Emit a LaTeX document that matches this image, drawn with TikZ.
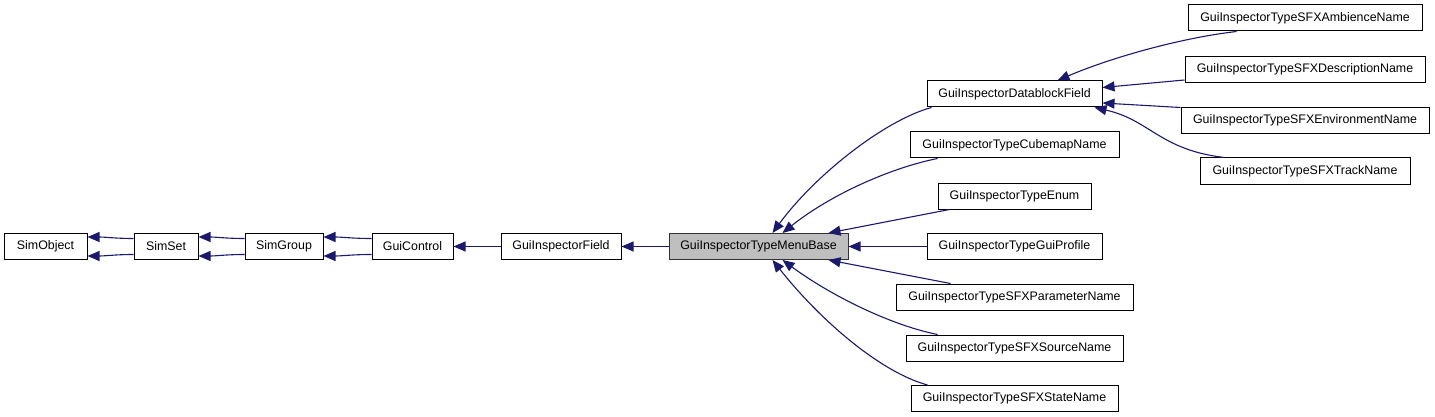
\documentclass[tikz,border=0pt]{standalone}
\usepackage{fontspec}
\setmainfont{Liberation Sans}
\usetikzlibrary{arrows.meta}
\definecolor{edgeblue}{HTML}{191970}
\definecolor{focusgray}{HTML}{BFBFBF}
\begin{document}
\begin{tikzpicture}[x=1pt,y=-1pt,
  box/.style={draw=black, line width=1pt, fill=white, minimum height=26pt, inner sep=0pt, font=\fontsize{12.4}{14}\selectfont},
  focus/.style={box, fill=focusgray, draw=black!80},
  edge/.style={draw=edgeblue, line width=1.1pt, -{Triangle[length=12pt,width=10pt]}}]
\useasboundingbox (0,0) rectangle (1435,417);
% left chain
\node[box, minimum width=83pt] (simobject) at (45.5,246.5) {SimObject};
\node[box, minimum width=64pt] (simset) at (166,246.5) {SimSet};
\node[box, minimum width=78pt] (simgroup) at (284,246.5) {SimGroup};
\node[box, minimum width=81pt] (guicontrol) at (412.5,246.5) {GuiControl};
\node[box, minimum width=120pt] (field) at (561,246.5) {GuiInspectorField};
\node[focus, minimum width=179pt] (menubase) at (758.5,246.5) {GuiInspectorTypeMenuBase};
% middle column
\node[box, minimum width=175pt] (datablock) at (1014.5,94) {GuiInspectorDatablockField};
\node[box, minimum width=209pt] (cubemap) at (1014.5,145) {GuiInspectorTypeCubemapName};
\node[box, minimum width=153pt] (enum) at (1014.5,196) {GuiInspectorTypeEnum};
\node[box, minimum width=175pt] (guiprofile) at (1014.5,246.5) {GuiInspectorTypeGuiProfile};
\node[box, minimum width=237pt] (sfxparam) at (1014.5,297) {GuiInspectorTypeSFXParameterName};
\node[box, minimum width=217pt] (sfxsource) at (1014.5,348) {GuiInspectorTypeSFXSourceName};
\node[box, minimum width=207pt] (sfxstate) at (1014.5,398.5) {GuiInspectorTypeSFXStateName};
% right column
\node[box, minimum width=234pt] (ambience) at (1305,18) {GuiInspectorTypeSFXAmbienceName};
\node[box, minimum width=240pt] (description) at (1305,69.5) {GuiInspectorTypeSFXDescriptionName};
\node[box, minimum width=248pt] (environment) at (1305,120.5) {GuiInspectorTypeSFXEnvironmentName};
\node[box, minimum width=210pt] (track) at (1305,171) {GuiInspectorTypeSFXTrackName};
% double edges on the left
\draw[edge] ([yshift=8pt]simset.west) to[out=180,in=0] ([yshift=9.5pt]simobject.east);
\draw[edge] ([yshift=-8pt]simset.west) to[out=180,in=0] ([yshift=-9.5pt]simobject.east);
\draw[edge] ([yshift=8pt]simgroup.west) to[out=180,in=0] ([yshift=9.5pt]simset.east);
\draw[edge] ([yshift=-8pt]simgroup.west) to[out=180,in=0] ([yshift=-9.5pt]simset.east);
\draw[edge] ([yshift=8pt]guicontrol.west) to[out=180,in=0] ([yshift=9.5pt]simgroup.east);
\draw[edge] ([yshift=-8pt]guicontrol.west) to[out=180,in=0] ([yshift=-9.5pt]simgroup.east);
% single chain
\draw[edge] (field.west) -- (guicontrol.east);
\draw[edge] (menubase.west) -- (field.east);
% middle column to menubase
\draw[edge] ([xshift=5pt]datablock.south west) .. controls (885,120) and (815,175) .. ([xshift=14pt]menubase.north);
\draw[edge] ([xshift=28pt]cubemap.south west) .. controls (890,168) and (830,195) .. ([xshift=24pt]menubase.north);
\draw[edge] ([xshift=12pt]enum.south west) -- ([xshift=-20pt]menubase.north east);
\draw[edge] (guiprofile.west) -- (menubase.east);
\draw[edge] ([xshift=55pt]sfxparam.north west) -- ([xshift=-20pt]menubase.south east);
\draw[edge] ([xshift=32pt]sfxsource.north west) .. controls (890,325) and (830,295) .. ([xshift=24pt]menubase.south);
\draw[edge] ([xshift=17pt]sfxstate.north west) .. controls (880,372) and (820,320) .. ([xshift=14pt]menubase.south);
% right column to datablock
\draw[edge] ([xshift=49pt]ambience.south west) .. controls (1180,38) and (1110,58) .. ([xshift=43pt]datablock.north);
\draw[edge] ([yshift=-10.5pt]description.west) -- ([yshift=6.5pt]datablock.east);
\draw[edge] ([yshift=-0.5pt]environment.north west) -- ([yshift=-9pt]datablock.east);
\draw[edge] ([xshift=25pt]track.north west) .. controls (1160,150) and (1150,120) .. ([xshift=-8pt]datablock.south east);
\end{tikzpicture}
\end{document}
